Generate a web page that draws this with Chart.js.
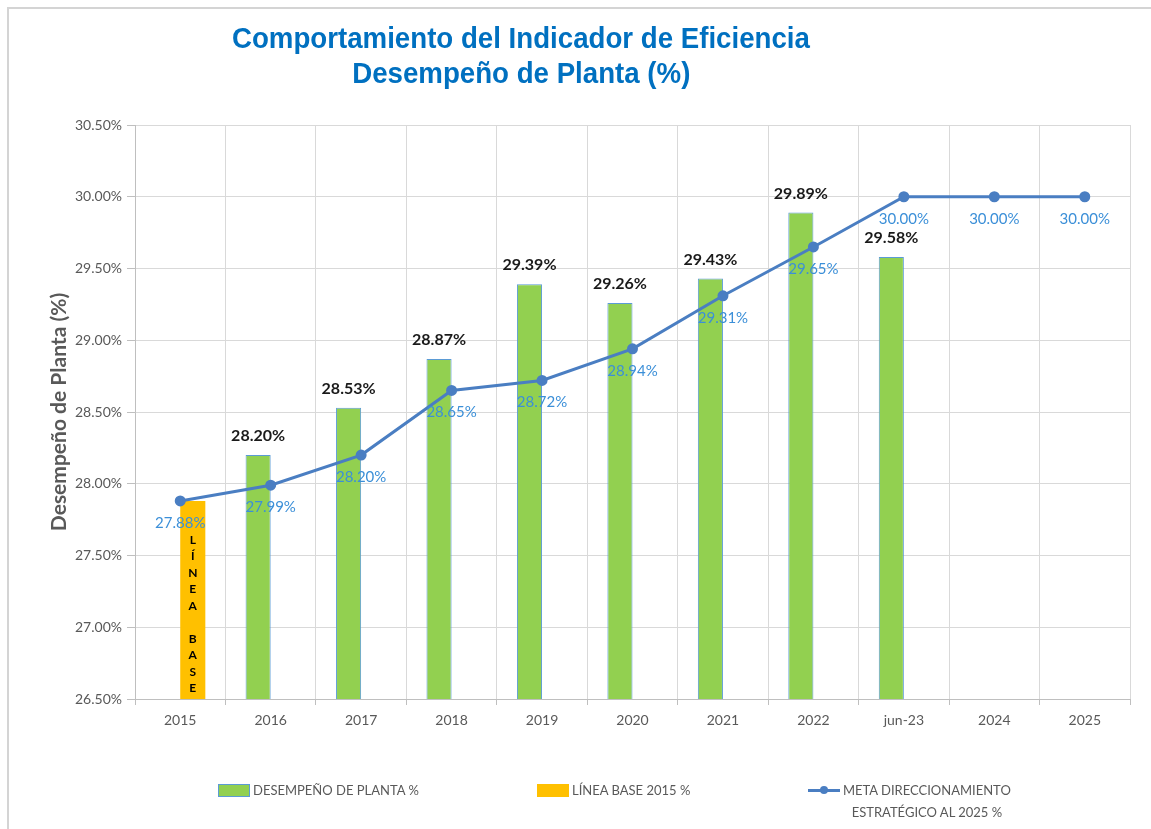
<!DOCTYPE html>
<html>
<head>
<meta charset="utf-8">
<script src="https://cdn.jsdelivr.net/npm/chart.js@4.4.1/dist/chart.umd.min.js"></script>
<style>
  body { margin: 0; background: #fff; }
  #wrap { position: relative; width: 1151px; height: 829px; overflow: hidden; }
  #frame { position: absolute; left: 7px; top: 7px; right: -10px; bottom: -10px;
           border-top: 2px solid #d4d4d4; border-left: 2px solid #d4d4d4; }
  #title { position: absolute; left: 121px; width: 800px; top: 21px; text-align: center;
           font-family: "Liberation Sans", Arial, sans-serif;
           font-weight: bold; font-size: 29px; line-height: 35px; color: #0070c0; z-index: 2; }
  #title .tl { white-space: nowrap; display: inline-block; transform-origin: 50% 50%; }
  canvas { position: absolute; left: 0; top: 0; }
  .leg { position: absolute; font-family: Lato, "Open Sans", sans-serif; font-size: 13px;
         color: #595959; line-height: 22px; }
  .sw { position: absolute; }
</style>
</head>
<body>
<div id="wrap">
  <div id="frame"></div>
  <div id="title"><span class="tl">Comportamiento del Indicador de Eficiencia</span><br><span class="tl">Desempeño de Planta (%)</span></div>
  <canvas id="chart" width="1151" height="829"></canvas>
  <div id="legend"></div>
</div>
<script>
const categories = ['2015', '2016', '2017', '2018', '2019', '2020', '2021', '2022', 'jun-23', '2024', '2025'];
const desempeno = [null, 28.20, 28.53, 28.87, 29.39, 29.26, 29.43, 29.89, 29.58, null, null];
const lineaBase = [27.88, null, null, null, null, null, null, null, null, null, null];
const meta = [27.88, 27.99, 28.20, 28.65, 28.72, 28.94, 29.31, 29.65, 30.00, 30.00, 30.00];
const yTicks = [26.5, 27.0, 27.5, 28.0, 28.5, 29.0, 29.5, 30.0, 30.5];

const GREEN = '#92d050', ORANGE = '#ffc000', LINE = '#4a7ec2', LABEL_BLUE = '#3b8fd8';

// título condensado (como Arial Narrow)
const lines = document.querySelectorAll('#title .tl');
const s = 578 / lines[0].getBoundingClientRect().width;
lines.forEach(l => { l.style.transform = `scaleX(${s})`; });

const valueLabels = {
  id: 'valueLabels',
  afterDatasetsDraw(chart) {
    const ctx = chart.ctx;
    ctx.save();
    ctx.textAlign = 'center';
    ctx.textBaseline = 'middle';

    // etiquetas de barras
    ctx.font = 'bold 16px Lato, sans-serif';
    ctx.fillStyle = '#1a1a1a';
    chart.getDatasetMeta(0).data.forEach((bar, i) => {
      if (desempeno[i] == null) return;
      ctx.fillText(desempeno[i].toFixed(2) + '%', bar.x, bar.y - 19);
    });

    // etiquetas de la meta
    ctx.font = '15px Lato, sans-serif';
    ctx.fillStyle = LABEL_BLUE;
    chart.getDatasetMeta(2).data.forEach((pt, i) => {
      ctx.fillText(meta[i].toFixed(2) + '%', pt.x, pt.y + 22);
    });

    // texto vertical de la línea base
    const base = chart.getDatasetMeta(1).data[0];
    ctx.font = 'bold 12px Lato, sans-serif';
    ctx.fillStyle = '#000';
    'LÍNEA BASE'.split('').forEach((ch, k) => {
      if (ch !== ' ') ctx.fillText(ch, base.x, base.y + 39 + k * 16.5);
    });
    ctx.restore();
  }
};

const ctx = document.getElementById('chart').getContext('2d');
new Chart(ctx, {
  type: 'bar',
  data: {
    labels: categories,
    datasets: [
      {
        label: 'DESEMPEÑO DE PLANTA %',
        data: desempeno,
        backgroundColor: GREEN,
        borderColor: '#5b9bd5',
        borderWidth: 1,
        order: 1
      },
      {
        label: 'LÍNEA BASE 2015 %',
        data: lineaBase,
        backgroundColor: ORANGE,
        borderWidth: 0,
        order: 2
      },
      {
        type: 'line',
        label: 'META DIRECCIONAMIENTO ESTRATÉGICO AL 2025 %',
        data: meta,
        borderColor: LINE,
        backgroundColor: LINE,
        borderWidth: 3,
        pointRadius: 4,
        pointHoverRadius: 4,
        tension: 0,
        order: 0
      }
    ]
  },
  options: {
    responsive: false,
    animation: false,
    categoryPercentage: 0.555,
    barPercentage: 1.0,
    layout: { padding: { left: 0, right: 21, top: 125, bottom: 90 } },
    plugins: {
      legend: { display: false },
      tooltip: { enabled: false }
    },
    scales: {
      x: {
        grid: { color: '#d9d9d9', offset: true, tickLength: 6, tickColor: '#bfbfbf' },
        border: { color: '#bfbfbf' },
        ticks: { color: '#595959', font: { family: 'Lato', size: 14 }, padding: 7 },
        afterFit: sc => { sc.height = 40; }
      },
      y: {
        min: 26.5,
        max: 30.5,
        afterBuildTicks: sc => { sc.ticks = yTicks.map(v => ({ value: v })); },
        grid: { color: '#d9d9d9', tickLength: 8, tickColor: '#bfbfbf' },
        border: { color: '#bfbfbf' },
        ticks: {
          color: '#595959',
          font: { family: 'Lato', size: 14 },
          padding: 5,
          callback: v => v.toFixed(2) + '%'
        },
        title: {
          display: true,
          text: 'Desempeño de Planta (%)',
          color: '#595959',
          font: { family: 'Lato', size: 21, weight: 'bold' },
          padding: { top: 47, bottom: 0 }
        },
        afterFit: sc => { sc.width = 135; }
      }
    }
  },
  plugins: [valueLabels]
});

// leyenda
const legendItems = [
  { text: 'DESEMPEÑO DE PLANTA %', x: 218, kind: 'box', color: GREEN, border: '#5b9bd5' },
  { text: 'LÍNEA BASE 2015 %', x: 537, kind: 'box', color: ORANGE, border: ORANGE },
  { text: 'META DIRECCIONAMIENTO<br>ESTRATÉGICO AL 2025 %', x: 808, kind: 'line', color: LINE }
];
const legend = document.getElementById('legend');
legendItems.forEach(it => {
  const sw = document.createElement('div');
  sw.className = 'sw';
  if (it.kind === 'box') {
    sw.style.cssText = `left:${it.x}px;top:784px;width:30px;height:11px;background:${it.color};border:1px solid ${it.border};`;
  } else {
    sw.style.cssText = `left:${it.x}px;top:789px;width:32px;height:3px;background:${it.color};`;
    const dot = document.createElement('div');
    dot.style.cssText = `position:absolute;left:12px;top:-3px;width:8px;height:8px;border-radius:50%;background:${it.color};`;
    sw.appendChild(dot);
  }
  legend.appendChild(sw);
  const t = document.createElement('div');
  t.className = 'leg';
  t.style.left = (it.x + 35) + 'px';
  t.style.top = '779px';
  t.style.textAlign = 'center';
  t.innerHTML = it.text;
  legend.appendChild(t);
});
</script>
</body>
</html>
